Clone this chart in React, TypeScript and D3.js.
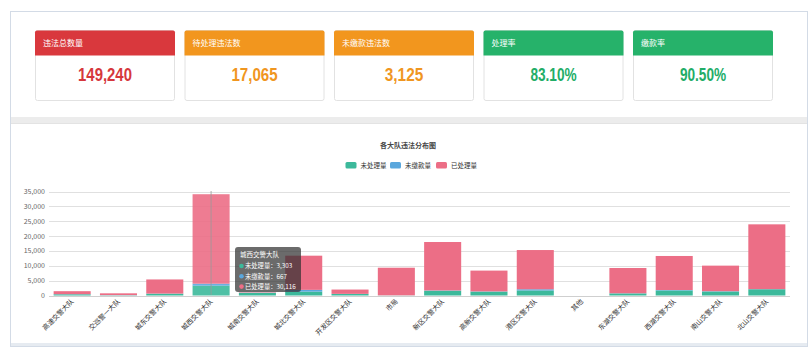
import React from "react";
import * as d3 from "d3";

const width = 812;
const height = 352;

// kpi cards
const kpiTitles = ["违法总数量", "待处理违法数", "未缴款违法数", "处理率", "缴款率"];
const kpiValues = ["149,240", "17,065", "3,125", "83.10%", "90.50%"];
const kpiColors = ["#d9383d", "#f2961e", "#f2961e", "#26b26a", "#26b26a"];
const kpiTextColors = ["#d6373c", "#f0961f", "#f0961f", "#22ad67", "#22ad67"];

// chart
const categories = [
  "高速交警大队", "交巡警一大队", "城东交警大队", "城西交警大队",
  "城南交警大队", "城北交警大队", "开发区交警大队", "市局",
  "新区交警大队", "高新交警大队", "港区交警大队", "其他",
  "东湖交警大队", "西湖交警大队", "南山交警大队", "北山交警大队",
];
const seriesNames = ["未处理量", "未缴款量", "已处理量"];
const seriesColors = ["#3cb99b", "#5aa7dd", "#ec6e86"];
const untreated = [400, 100, 600, 3303, 900, 1300, 500, 50, 1600, 1300, 1700, 0, 700, 1700, 1350, 2100];
const unpaid = [50, 30, 50, 667, 50, 600, 50, 0, 100, 80, 400, 0, 50, 150, 100, 50];
const treated = [1000, 600, 4750, 30116, 150, 11500, 1450, 9300, 16300, 7000, 13200, 0, 8500, 11450, 8600, 21800];
const yTicks = [0, 5000, 10000, 15000, 20000, 25000, 30000, 35000];
const hoverIndex = 3;

const font = "'Noto Sans CJK SC', 'DejaVu Sans', sans-serif";

export default function App() {
  const x = d3.scaleBand<string>().domain(categories).range([49, 790]).paddingInner(0.2).paddingOuter(0.1);
  const y = d3.scaleLinear().domain([0, 35000]).range([295.5, 191.5]);
  const fmt = d3.format(",");

  const rows = categories.map((c, i) => ({ c, v: [untreated[i], unpaid[i], treated[i]] }));
  const stack = d3.stack<any>().keys(["0", "1", "2"]).value((d, k) => d.v[+k]);
  const layers = stack(rows as any);

  const cardW = 139;
  const cardX = (i: number) => 35 + i * 149.5;
  const hx = (x(categories[hoverIndex]) || 0) + x.bandwidth() / 2;

  return (
    <svg width={width} height={height} style={{ position: "absolute", left: 0, top: 0, fontFamily: font }}>
      <rect x={0} y={0} width={width} height={height} fill="#fff" />
      {/* outer frame */}
      <rect x={10.5} y={11.5} width={797} height={335} fill="#fff" stroke="#d3dbe6" />
      <rect x={11} y={117} width={796} height={6} fill="#ececec" />
      <line x1={11} x2={807} y1={123.5} y2={123.5} stroke="#e3e3e3" />
      <rect x={11} y={343} width={796} height={3} fill="#e6ebf1" />

      {/* kpi cards */}
      {kpiTitles.map((t, i) => (
        <g key={t}>
          <rect x={cardX(i) + 0.5} y={30.5} width={cardW} height={70} rx={2} fill="#fff" stroke="#e2e2e2" />
          <path d={`M${cardX(i)},${55.5}V${32.5}a2,2 0 0 1 2,-2H${cardX(i) + cardW - 1}a2,2 0 0 1 2,2V${55.5}Z`} fill={kpiColors[i]} />
          <text x={cardX(i) + 8} y={46} fontSize={8} fill="#fff">{t}</text>
          <text
            x={cardX(i) + cardW / 2 + 0.5}
            y={81}
            fontSize={18}
            fontWeight="bold"
            fontFamily="'Liberation Sans', Arial, sans-serif"
            fill={kpiTextColors[i]}
            textAnchor="middle"
            textLength={kpiValues[i].length * 7.7}
            lengthAdjust="spacingAndGlyphs"
          >
            {kpiValues[i]}
          </text>
        </g>
      ))}

      {/* chart title & legend */}
      <text x={408} y={148} fontSize={7} fontWeight="bold" fill="#464646" textAnchor="middle">各大队违法分布图</text>
      {seriesNames.map((n, i) => {
        const lx = [345.5, 390, 436][i];
        return (
          <g key={n}>
            <rect x={lx} y={162} width={11} height={6.5} rx={1.5} fill={seriesColors[i]} />
            <text x={lx + 15} y={168} fontSize={6.5} fill="#333">{n}</text>
          </g>
        );
      })}

      {/* grid & y axis */}
      {yTicks.map((t) => (
        <g key={t}>
          <line x1={49} x2={790} y1={Math.round(y(t)) + 0.5} y2={Math.round(y(t)) + 0.5} stroke={t === 0 ? "#cfcfcf" : "#e0e0e0"} />
          <text x={45} y={y(t) + 2.5} fontSize={7} fill="#666" textAnchor="end">{fmt(t)}</text>
        </g>
      ))}

      {/* bars */}
      {layers.map((layer, si) => (
        <g key={si} fill={seriesColors[si]}>
          {layer.map((d, i) => {
            const h = y(d[0]) - y(d[1]);
            if (h <= 0) return null;
            return (
              <rect key={i} x={x(categories[i])} y={y(d[1])} width={x.bandwidth()} height={h}
                opacity={i === hoverIndex ? 0.9 : 1} />
            );
          })}
        </g>
      ))}

      {/* x labels */}
      {categories.map((c) => (
        <text key={c} fontSize={6.8} fill="#333" textAnchor="end"
          transform={`translate(${(x(c) || 0) + x.bandwidth() / 2 + 2},${302}) rotate(-45)`}>
          {c}
        </text>
      ))}

      {/* axis pointer & tooltip */}
      <line x1={hx} x2={hx} y1={191} y2={295} stroke="#9a9a9a" strokeWidth={0.8} />
      <g>
        <rect x={235} y={247} width={66} height={45} rx={3} fill="rgba(50,50,50,0.72)" />
        <text x={240} y={257} fontSize={6.5} fill="#fff">{categories[hoverIndex]}</text>
        {seriesNames.map((n, i) => (
          <g key={n}>
            <circle cx={241.5} cy={266 + i * 10.3} r={2.3} fill={seriesColors[i]} />
            <text x={245} y={268.3 + i * 10.3} fontSize={6.3} fill="#fff">
              {n}：{fmt([untreated, unpaid, treated][i][hoverIndex])}
            </text>
          </g>
        ))}
      </g>
    </svg>
  );
}
